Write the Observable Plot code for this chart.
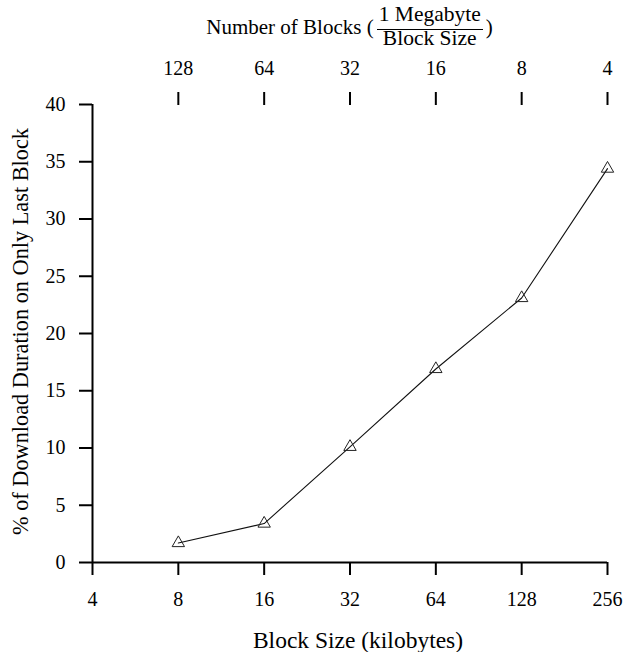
<!DOCTYPE html>
<html>
<head>
<meta charset="utf-8">
<script src="https://cdn.jsdelivr.net/npm/d3@7"></script>
<script src="https://cdn.jsdelivr.net/npm/@observablehq/plot@0.6"></script>
<style>
  html, body { margin: 0; padding: 0; background: white; }
  #chart { width: 636px; font-family: "Liberation Serif", "Times New Roman", serif; color: black; }
  #title {
    height: 50px; box-sizing: border-box;
    padding-left: 92px; padding-right: 29px;
    display: flex; align-items: flex-start; justify-content: center;
    font-size: 21px;
  }
  #title .lead { margin-top: 17px; white-space: pre; line-height: 21px; }
  #title .frac { display: inline-flex; flex-direction: column; align-items: center; margin: 4px 3px 0 3px; font-size: 21.5px; }
  #title .num { line-height: 21px; padding: 0 2px; margin-bottom: 4px; }
  #title .bar { align-self: stretch; border-top: 1.5px solid black; }
  #title .den { line-height: 21px; padding: 0 2px; margin-top: -2px; }
  svg { display: block; }
</style>
</head>
<body>
<div id="chart">
  <div id="title"><span class="lead">Number of Blocks (</span><span class="frac"><span class="num">1 Megabyte</span><span class="bar"></span><span class="den">Block Size</span></span><span class="lead">)</span></div>
</div>
<script>
// Block size in kilobytes and share of the download spent on the last block
const blockSizes = [8, 16, 32, 64, 128, 256];
const lastBlockPct = [1.7, 3.4, 10.1, 16.9, 23.1, 34.4];

// Axis ticks
const bottomTicks = [4, 8, 16, 32, 64, 128, 256];
const blockCounts = [128, 64, 32, 16, 8, 4]; // blocks per megabyte, one per block size
const yTicks = [0, 5, 10, 15, 20, 25, 30, 35, 40];

const xLabel = "Block Size (kilobytes)";
const yLabel = "% of Download Duration on Only Last Block";

const data = blockSizes.map((size, i) => ({size, pct: lastBlockPct[i]}));

const chart = Plot.plot({
  width: 636,
  height: 602,
  marginLeft: 92,
  marginRight: 29,
  marginTop: 54,
  marginBottom: 90,
  style: {
    fontFamily: "'Liberation Serif', 'Times New Roman', serif",
    fontSize: "20px",
    color: "black",
    background: "white",
    overflow: "visible"
  },
  x: {type: "log", base: 2, domain: [4, 256]},
  y: {domain: [0, 40]},
  marks: [
    Plot.axisY({ticks: yTicks, tickSize: 13, tickPadding: 14, strokeWidth: 2, label: null, tickFormat: d => d}),
    Plot.axisX({anchor: "bottom", ticks: bottomTicks, tickSize: 13, tickPadding: 16, strokeWidth: 2, label: null, tickFormat: d => d}),
    Plot.axisX({anchor: "top", ticks: blockSizes, tickSize: 13, tickPadding: 17, strokeWidth: 2, label: null,
      tickFormat: d => blockCounts[blockSizes.indexOf(d)]}),
    Plot.ruleY([0], {strokeWidth: 2}),
    Plot.ruleX([4], {strokeWidth: 2}),
    Plot.line(data, {x: "size", y: "pct", stroke: "#111", strokeWidth: 1.1}),
    Plot.dot(data, {x: "size", y: "pct", symbol: "triangle", r: 4.6, stroke: "#222", strokeWidth: 1, fill: "none"}),
    Plot.text([xLabel], {frameAnchor: "bottom", dx: 8, dy: 85, fontSize: 23.5, textAnchor: "middle", text: d => d}),
    Plot.text([yLabel], {frameAnchor: "left", dx: -72, dy: -2, rotate: -90, fontSize: 22.3, textAnchor: "middle", text: d => d})
  ]
});

document.getElementById("chart").appendChild(chart);
</script>
</body>
</html>
